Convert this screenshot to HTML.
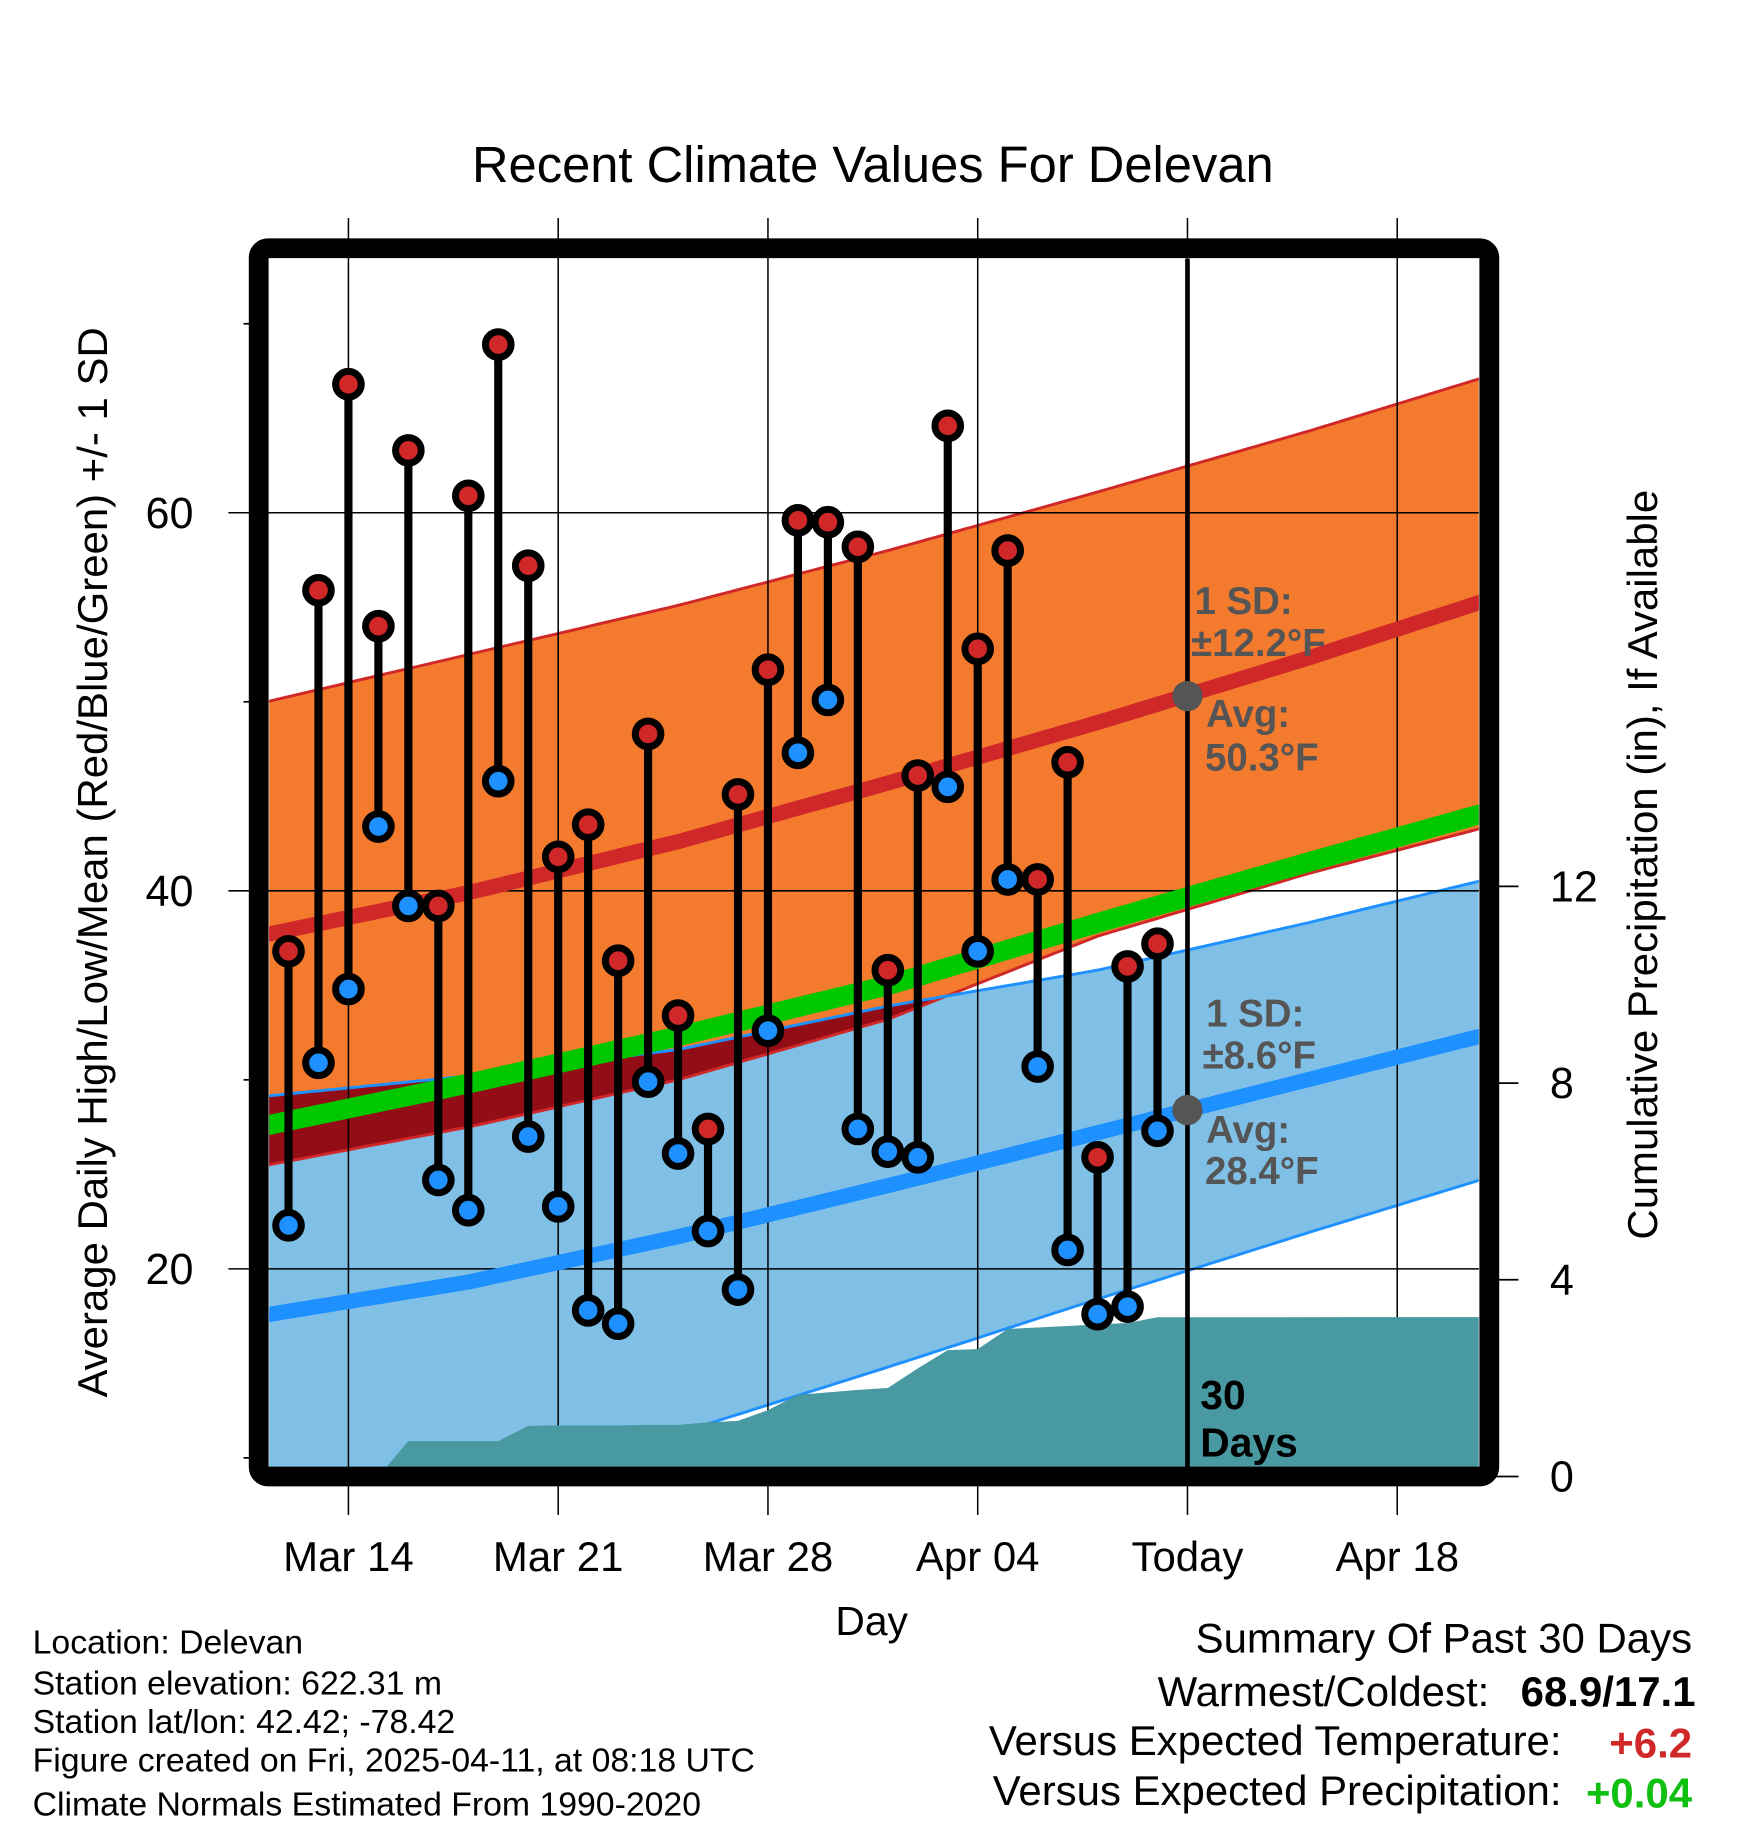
<!DOCTYPE html>
<html><head><meta charset="utf-8"><style>
html,body{margin:0;padding:0;background:#fff;}
svg{display:block;font-family:"Liberation Sans",sans-serif;}
</style></head><body>
<svg id="chart" width="1748" height="1828" viewBox="0 0 1500 1568.6" xmlns="http://www.w3.org/2000/svg">
<defs><clipPath id="plotclip"><rect x="231" y="222" width="1038" height="1037"/></clipPath><clipPath id="blueclip"><path id="blueClipPath" d=""/></clipPath></defs>
<g id="bands" clip-path="url(#plotclip)"></g>
<g id="grid"></g>
<g id="lines" clip-path="url(#plotclip)"></g>
<g id="precip" clip-path="url(#plotclip)"></g>
<g id="annot"></g>
<g id="marks"></g>
<rect x="222" y="213" width="1056" height="1054" rx="8" fill="none" stroke="#000" stroke-width="17"/>
<text x="749" y="156" font-size="44" text-anchor="middle" textLength="688" lengthAdjust="spacingAndGlyphs">Recent Climate Values For Delevan</text>
<text transform="translate(92,740) rotate(-90)" font-size="36" text-anchor="middle">Average Daily High/Low/Mean (Red/Blue/Green) +/- 1 SD</text>
<text transform="translate(1422,742) rotate(-90)" font-size="36" text-anchor="middle">Cumulative Precipitation (in), If Available</text>
<text x="748" y="1403" font-size="35" text-anchor="middle">Day</text>
<g font-size="29">
<text x="28" y="1419">Location: Delevan</text>
<text x="28" y="1454">Station elevation: 622.31 m</text>
<text x="28" y="1487">Station lat/lon: 42.42; -78.42</text>
<text x="28" y="1520">Figure created on Fri, 2025-04-11, at 08:18 UTC</text>
<text x="28" y="1558">Climate Normals Estimated From 1990-2020</text>
</g>
<g font-size="36" text-anchor="end">
<text x="1452" y="1418">Summary Of Past 30 Days</text>
<text x="1278" y="1464">Warmest/Coldest:</text>
<text x="1455" y="1464" font-weight="bold">68.9/17.1</text>
<text x="1340" y="1506">Versus Expected Temperature:</text>
<text x="1452" y="1508" font-weight="bold" fill="#d02828">+6.2</text>
<text x="1340" y="1549">Versus Expected Precipitation:</text>
<text x="1452" y="1551" font-weight="bold" fill="#10c010">+0.04</text>
</g>
</svg>
<script>
const days=[-2,-1,0,1,2,3,4,5,6,7,8,9,10,11,12,13,14,15,16,17,18,19,20,21,22,23,24,25,26,27];
const highs=[36.8,55.9,66.8,54.0,63.3,39.2,60.9,68.9,57.2,41.8,43.5,36.3,48.3,33.4,27.4,45.1,51.7,59.6,59.5,58.2,35.8,46.1,64.6,52.8,58.0,40.6,46.8,25.9,36.0,37.2];
const lows=[22.3,30.9,34.8,43.4,39.2,24.7,23.1,45.8,27.0,23.3,17.8,17.1,29.9,26.1,22.0,18.9,32.6,47.3,50.1,27.4,26.2,25.9,45.5,36.8,40.6,30.7,21.0,17.6,18.0,27.3];
const knotDays=[-3,4,11,18,25,32,39];
const normHigh=[37.6,39.9,42.6,45.7,48.9,52.3,55.9];
const highUpper=[49.9,52.5,55.1,58.0,61.1,64.3,67.7];
const highLower=[25.4,27.5,30.0,33.2,37.6,40.9,43.8];
const normMean=[27.5,29.8,32.3,35.0,38.3,41.5,44.6];
const normLow=[17.5,19.3,21.7,24.4,27.2,30.0,32.8];
const lowUpper=[29.1,30.2,31.6,33.9,35.8,38.3,41.0];
const lowLower=[4.3,7.8,11.3,14.8,18.4,21.9,25.3];
const precipDays=[-2,-1,0,1,2,3,4,5,6,7,8,9,10,11,12,13,14,15,16,17,18,19,20,21,22,23,24,25,26,27,28];
const precipCum=[0,0,0,0,0.72,0.72,0.72,0.72,1.03,1.04,1.04,1.04,1.05,1.05,1.10,1.13,1.35,1.66,1.71,1.76,1.80,2.2,2.57,2.59,3.0,3.03,3.06,3.09,3.12,3.24,3.24];
const yTicks=[20,40,60];
const yMinor=[10,30,50,70];
const pTicks=[0,4,8,12];
const xTickDays=[0,7,14,21,28,35];
const xTickLabels=["Mar 14","Mar 21","Mar 28","Apr 04","Today","Apr 18"];
const todayDay=28, todayHigh=50.3, todayLow=28.4;

const NS="http://www.w3.org/2000/svg";
const X=d=>299+d*180/7;
const Y=t=>440+(60-t)*16.22;
const P=p=>1267-p*42.2;
const D0=-2.7, D1=37.8;
function interp(arr,d){
  for(let i=0;i<knotDays.length-1;i++){
    if(d<=knotDays[i+1]){const f=(d-knotDays[i])/(knotDays[i+1]-knotDays[i]);return arr[i]+f*(arr[i+1]-arr[i]);}
  }
  return arr[arr.length-1];
}
function samples(fn){const pts=[];for(let d=D0;d<=D1+0.001;d+=0.25)pts.push([X(d),Y(fn(d))]);return pts;}
function line(pts){return pts.map((p,i)=>(i?'L':'M')+p[0].toFixed(1)+','+p[1].toFixed(1)).join('');}
function band(up,lo){return line(up)+lo.slice().reverse().map(p=>'L'+p[0].toFixed(1)+','+p[1].toFixed(1)).join('')+'Z';}
function mk(tag,attrs,parent){const e=document.createElementNS(NS,tag);for(const k in attrs)e.setAttribute(k,attrs[k]);parent.appendChild(e);return e;}

const bands=document.getElementById('bands'),grid=document.getElementById('grid'),lines=document.getElementById('lines'),precip=document.getElementById('precip'),annot=document.getElementById('annot'),marks=document.getElementById('marks');
const hUp=samples(d=>interp(highUpper,d));
const hLo=samples(d=>interp(highLower,d));
const lUp=samples(d=>interp(lowUpper,d));
const lLo=samples(d=>interp(lowLower,d));
let e=mk('path',{d:band(hUp,hLo),fill:'#f47a2e'},bands);


e=mk('path',{d:band(lUp,lLo),fill:'#80c0e6'},bands);


document.getElementById('blueClipPath').setAttribute('d',band(lUp,lLo));
e=mk('path',{d:band(hUp,hLo),fill:'#920d15','clip-path':'url(#blueclip)'},bands);


[[hUp,'#d02828'],[hLo,'#d02828'],[lUp,'#1e90ff'],[lLo,'#1e90ff']].forEach(([pts,c])=>{
  const l=mk('path',{d:line(pts),fill:'none',stroke:c,'stroke-width':2.5},bands);
  
  
});
yTicks.forEach(t=>{
  const g=mk('line',{x1:196,x2:1269,y1:Y(t),y2:Y(t),stroke:'#000','stroke-width':1.3},grid);
  
  
  const tx=mk('text',{x:166,y:Y(t)+13,'font-size':37,'text-anchor':'end'},grid);
  tx.textContent=t;
  
  
});
yMinor.forEach(t=>{
  const g=mk('line',{x1:209,x2:222,y1:Y(t),y2:Y(t),stroke:'#000','stroke-width':1.5},grid);
  
  
});
pTicks.forEach(p=>{
  const g=mk('line',{x1:1278,x2:1303,y1:P(p),y2:P(p),stroke:'#000','stroke-width':1.5},grid);
  
  
  const tx=mk('text',{x:1330,y:P(p)+13,'font-size':37},grid);
  tx.textContent=p;
  
  
});
xTickDays.forEach((d,i)=>{
  const g=mk('line',{x1:X(d),x2:X(d),y1:187,y2:1300,stroke:'#000','stroke-width':1.3},grid);
  
  
  const tx=mk('text',{x:X(d),y:1348,'font-size':36,'text-anchor':'middle'},grid);
  tx.textContent=xTickLabels[i];
  
  
});
[[normHigh,'#d02828','normal-high-line'],[normMean,'#00c800','normal-mean-line'],[normLow,'#1e90ff','normal-low-line']].forEach(([arr,c,n])=>{
  const l=mk('path',{d:line(samples(d=>interp(arr,d))),fill:'none',stroke:c,'stroke-width':n==='normal-mean-line'?17:13},lines);
  
  
});
let pp='M'+X(D0)+','+P(0);
pp+='L'+X(precipDays[0])+','+P(precipCum[0]);
precipDays.forEach((d,i)=>{pp+='L'+X(d).toFixed(1)+','+P(precipCum[i]).toFixed(1);});
pp+='L'+X(D1)+','+P(precipCum[precipCum.length-1])+'L'+X(D1)+','+P(0)+'Z';
e=mk('path',{d:pp,fill:'#4899a1'},precip);


e=mk('line',{x1:X(todayDay),x2:X(todayDay),y1:222,y2:1262,stroke:'#000','stroke-width':4},annot);


[[todayHigh,'today-high-normal-dot'],[todayLow,'today-low-normal-dot']].forEach(([t,n])=>{
  const c=mk('circle',{cx:X(todayDay),cy:Y(t),r:13,fill:'#555'},annot);
  
  
});
const labs=[["1 SD:",1025,527],["±12.2°F",1022,563],["Avg:",1035,624],["50.3°F",1034,661],["1 SD:",1035,881],["±8.6°F",1032,917],["Avg:",1035,981],["28.4°F",1034,1016]];
labs.forEach(([s,x,y])=>{
  const t=mk('text',{x:x,y:y,'font-size':33,'font-weight':'bold',fill:'#555'},annot);
  t.textContent=s;
  
  
});
[["30",1209],["Days",1250]].forEach(([s,y])=>{
  const t=mk('text',{x:1030,y:y,'font-size':35,'font-weight':'bold',fill:'#000'},annot);
  t.textContent=s;
  
  
});
days.forEach((d,i)=>{
  const x=X(d);
  const s=mk('line',{x1:x,x2:x,y1:Y(highs[i]),y2:Y(lows[i]),stroke:'#000','stroke-width':7},marks);
  
  
  const h=mk('circle',{cx:x,cy:Y(highs[i]),r:11,fill:'#d02828',stroke:'#000','stroke-width':6},marks);
  
  
  const l=mk('circle',{cx:x,cy:Y(lows[i]),r:11,fill:'#1e90ff',stroke:'#000','stroke-width':6},marks);
  
  
});
</script>
</body></html>
